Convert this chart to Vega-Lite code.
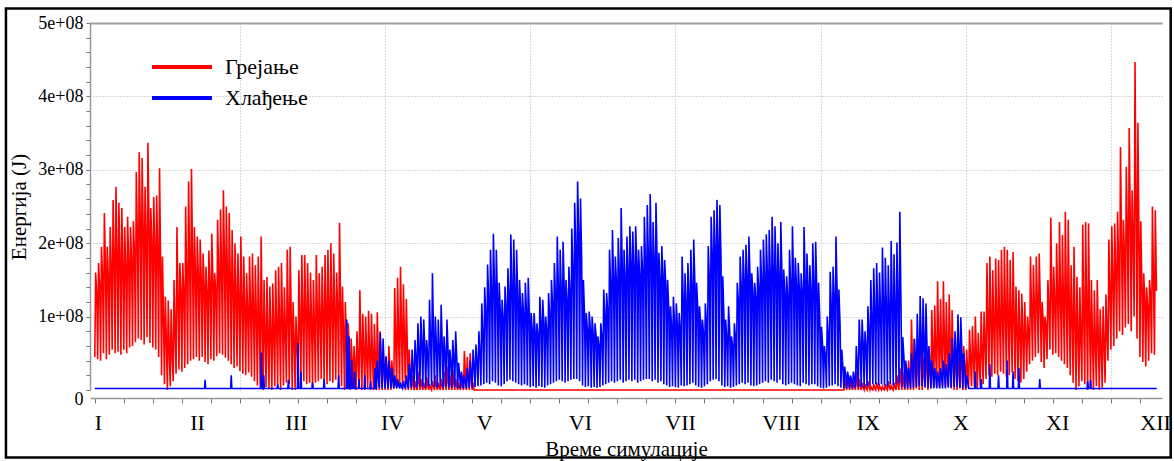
{
"$schema":"https://vega.github.io/schema/vega-lite/v6.json",
"width":1072,"height":367,
"autosize":{"type":"none"},
"padding":{"left":90,"top":23,"right":12,"bottom":71},
"background":"white",
"config":{"view":{"stroke":null},"font":"Liberation Serif"},
"resolve":{"axis":{"x":"independent"}},
"layer":[
{"data":{"values":[
{"t":0,"v":45},{"t":0.3,"v":160},{"t":0.7,"v":130},
{"t":1,"v":42},{"t":1.3,"v":173},{"t":1.7,"v":140},
{"t":2,"v":40},{"t":2.3,"v":195},{"t":2.7,"v":150},
{"t":3,"v":50},{"t":3.3,"v":241},{"t":3.7,"v":165},
{"t":4,"v":42},{"t":4.3,"v":195},{"t":4.7,"v":150},
{"t":5,"v":48},{"t":5.3,"v":222},{"t":5.7,"v":160},
{"t":6,"v":55},{"t":6.3,"v":259},{"t":6.7,"v":170},
{"t":7,"v":50},{"t":7.3,"v":277},{"t":7.7,"v":172},
{"t":8,"v":52},{"t":8.3,"v":255},{"t":8.7,"v":165},
{"t":9,"v":48},{"t":9.3,"v":248},{"t":9.7,"v":160},
{"t":10,"v":55},{"t":10.3,"v":222},{"t":10.7,"v":158},
{"t":11,"v":50},{"t":11.3,"v":236},{"t":11.7,"v":168},
{"t":12,"v":58},{"t":12.3,"v":222},{"t":12.7,"v":172},
{"t":13,"v":60},{"t":13.3,"v":230},{"t":13.7,"v":180},
{"t":14,"v":65},{"t":14.3,"v":297},{"t":14.7,"v":200},
{"t":15,"v":70},{"t":15.3,"v":324},{"t":15.7,"v":215},
{"t":16,"v":68},{"t":16.3,"v":316},{"t":16.7,"v":210},
{"t":17,"v":62},{"t":17.3,"v":277},{"t":17.7,"v":195},
{"t":18,"v":72},{"t":18.3,"v":337},{"t":18.7,"v":218},
{"t":19,"v":64},{"t":19.3,"v":248},{"t":19.7,"v":192},
{"t":20,"v":58},{"t":20.3,"v":263},{"t":20.7,"v":185},
{"t":21,"v":55},{"t":21.3,"v":265},{"t":21.7,"v":178},
{"t":22,"v":45},{"t":22.3,"v":302},{"t":22.7,"v":165},
{"t":23,"v":20},{"t":23.3,"v":182},{"t":23.7,"v":90},
{"t":24,"v":8},{"t":24.3,"v":127},{"t":24.7,"v":60},
{"t":25,"v":0},{"t":25.3,"v":122},{"t":25.7,"v":45},
{"t":26,"v":5},{"t":26.3,"v":110},{"t":26.7,"v":42},
{"t":27,"v":12},{"t":27.3,"v":150},{"t":27.7,"v":70},
{"t":28,"v":22},{"t":28.3,"v":222},{"t":28.7,"v":110},
{"t":29,"v":28},{"t":29.3,"v":173},{"t":29.7,"v":130},
{"t":30,"v":25},{"t":30.3,"v":173},{"t":30.7,"v":125},
{"t":31,"v":30},{"t":31.3,"v":250},{"t":31.7,"v":140},
{"t":32,"v":35},{"t":32.3,"v":284},{"t":32.7,"v":160},
{"t":33,"v":40},{"t":33.3,"v":301},{"t":33.7,"v":170},
{"t":34,"v":42},{"t":34.3,"v":222},{"t":34.7,"v":155},
{"t":35,"v":45},{"t":35.3,"v":209},{"t":35.7,"v":150},
{"t":36,"v":40},{"t":36.3,"v":205},{"t":36.7,"v":145},
{"t":37,"v":45},{"t":37.3,"v":186},{"t":37.7,"v":138},
{"t":38,"v":38},{"t":38.3,"v":168},{"t":38.7,"v":128},
{"t":39,"v":35},{"t":39.3,"v":190},{"t":39.7,"v":135},
{"t":40,"v":42},{"t":40.3,"v":213},{"t":40.7,"v":148},
{"t":41,"v":40},{"t":41.3,"v":159},{"t":41.7,"v":130},
{"t":42,"v":46},{"t":42.3,"v":232},{"t":42.7,"v":150},
{"t":43,"v":50},{"t":43.3,"v":246},{"t":43.7,"v":158},
{"t":44,"v":48},{"t":44.3,"v":272},{"t":44.7,"v":165},
{"t":45,"v":44},{"t":45.3,"v":250},{"t":45.7,"v":150},
{"t":46,"v":40},{"t":46.3,"v":241},{"t":46.7,"v":142},
{"t":47,"v":35},{"t":47.3,"v":218},{"t":47.7,"v":130},
{"t":48,"v":30},{"t":48.3,"v":200},{"t":48.7,"v":118},
{"t":49,"v":32},{"t":49.3,"v":186},{"t":49.7,"v":115},
{"t":50,"v":26},{"t":50.3,"v":209},{"t":50.7,"v":110},
{"t":51,"v":22},{"t":51.3,"v":182},{"t":51.7,"v":102},
{"t":52,"v":20},{"t":52.3,"v":159},{"t":52.7,"v":98},
{"t":53,"v":24},{"t":53.3,"v":182},{"t":53.7,"v":100},
{"t":54,"v":18},{"t":54.3,"v":186},{"t":54.7,"v":98},
{"t":55,"v":12},{"t":55.3,"v":170},{"t":55.7,"v":90},
{"t":56,"v":6},{"t":56.3,"v":182},{"t":56.7,"v":80},
{"t":57,"v":3},{"t":57.3,"v":209},{"t":57.7,"v":78},
{"t":58,"v":0},{"t":58.3,"v":150},{"t":58.7,"v":65},
{"t":59,"v":4},{"t":59.3,"v":154},{"t":59.7,"v":62},
{"t":60,"v":2},{"t":60.3,"v":141},{"t":60.7,"v":65},
{"t":61,"v":0},{"t":61.3,"v":145},{"t":61.7,"v":68},
{"t":62,"v":5},{"t":62.3,"v":163},{"t":62.7,"v":72},
{"t":63,"v":8},{"t":63.3,"v":168},{"t":63.7,"v":78},
{"t":64,"v":0},{"t":64.3,"v":173},{"t":64.7,"v":85},
{"t":65,"v":6},{"t":65.3,"v":140},{"t":65.7,"v":70},
{"t":66,"v":10},{"t":66.3,"v":191},{"t":66.7,"v":88},
{"t":67,"v":8},{"t":67.3,"v":195},{"t":67.7,"v":92},
{"t":68,"v":0},{"t":68.3,"v":120},{"t":68.7,"v":60},
{"t":69,"v":0},{"t":69.3,"v":100},{"t":69.7,"v":55},
{"t":70,"v":5},{"t":70.3,"v":163},{"t":70.7,"v":82},
{"t":71,"v":10},{"t":71.3,"v":184},{"t":71.7,"v":92},
{"t":72,"v":12},{"t":72.3,"v":184},{"t":72.7,"v":95},
{"t":73,"v":8},{"t":73.3,"v":173},{"t":73.7,"v":88},
{"t":74,"v":10},{"t":74.3,"v":160},{"t":74.7,"v":85},
{"t":75,"v":4},{"t":75.3,"v":150},{"t":75.7,"v":78},
{"t":76,"v":10},{"t":76.3,"v":184},{"t":76.7,"v":94},
{"t":77,"v":12},{"t":77.3,"v":159},{"t":77.7,"v":90},
{"t":78,"v":15},{"t":78.3,"v":168},{"t":78.7,"v":96},
{"t":79,"v":10},{"t":79.3,"v":184},{"t":79.7,"v":98},
{"t":80,"v":8},{"t":80.3,"v":191},{"t":80.7,"v":95},
{"t":81,"v":12},{"t":81.3,"v":200},{"t":81.7,"v":100},
{"t":82,"v":10},{"t":82.3,"v":186},{"t":82.7,"v":96},
{"t":83,"v":14},{"t":83.3,"v":160},{"t":83.7,"v":100},
{"t":84,"v":14},{"t":84.3,"v":228},{"t":84.7,"v":105},
{"t":85,"v":5},{"t":85.3,"v":141},{"t":85.7,"v":75},
{"t":86,"v":0},{"t":86.3,"v":120},{"t":86.7,"v":55},
{"t":87,"v":2},{"t":87.3,"v":91},{"t":87.7,"v":45},
{"t":88,"v":0},{"t":88.3,"v":70},{"t":88.7,"v":35},
{"t":89,"v":3},{"t":89.3,"v":60},{"t":89.7,"v":30},
{"t":90,"v":0},{"t":90.3,"v":80},{"t":90.7,"v":38},
{"t":91,"v":2},{"t":91.3,"v":136},{"t":91.7,"v":50},
{"t":92,"v":0},{"t":92.3,"v":104},{"t":92.7,"v":45},
{"t":93,"v":0},{"t":93.3,"v":100},{"t":93.7,"v":40},
{"t":94,"v":3},{"t":94.3,"v":108},{"t":94.7,"v":42},
{"t":95,"v":0},{"t":95.3,"v":104},{"t":95.7,"v":40},
{"t":96,"v":0},{"t":96.3,"v":90},{"t":96.7,"v":35},
{"t":97,"v":0},{"t":97.3,"v":106},{"t":97.7,"v":38},
{"t":98,"v":0},{"t":98.3,"v":80},{"t":98.7,"v":30},
{"t":99,"v":0},{"t":99.3,"v":55},{"t":99.7,"v":22},
{"t":100,"v":0},{"t":100.3,"v":45},{"t":100.7,"v":18},
{"t":101,"v":0},{"t":101.3,"v":60},{"t":101.7,"v":25},
{"t":102,"v":0},{"t":102.3,"v":40},{"t":102.7,"v":15},
{"t":103,"v":2},{"t":103.3,"v":139},{"t":103.7,"v":55},
{"t":104,"v":3},{"t":104.3,"v":153},{"t":104.7,"v":62},
{"t":105,"v":5},{"t":105.3,"v":168},{"t":105.7,"v":70},
{"t":106,"v":2},{"t":106.3,"v":144},{"t":106.7,"v":60},
{"t":107,"v":0},{"t":107.3,"v":124},{"t":107.7,"v":50},
{"t":108,"v":0},{"t":108.3,"v":55},{"t":108.7,"v":20},
{"t":109,"v":0},{"t":109.3,"v":20},{"t":109.7,"v":6},
{"t":110,"v":0},{"t":110.3,"v":12},{"t":110.7,"v":4},
{"t":111,"v":0},{"t":111.3,"v":25},{"t":111.7,"v":8},
{"t":112,"v":0},{"t":112.3,"v":15},{"t":112.7,"v":5},
{"t":113,"v":0},{"t":113.3,"v":10},{"t":113.7,"v":3},
{"t":114,"v":0},{"t":114.3,"v":18},{"t":114.7,"v":6},
{"t":115,"v":0},{"t":115.3,"v":8},{"t":115.7,"v":2},
{"t":116,"v":0},{"t":116.3,"v":12},{"t":116.7,"v":4},
{"t":117,"v":0},{"t":117.3,"v":20},{"t":117.7,"v":5},
{"t":118,"v":0},{"t":118.3,"v":10},{"t":118.7,"v":3},
{"t":119,"v":0},{"t":119.3,"v":15},{"t":119.7,"v":5},
{"t":120,"v":0},{"t":120.3,"v":25},{"t":120.7,"v":8},
{"t":121,"v":0},{"t":121.3,"v":32},{"t":121.7,"v":10},
{"t":122,"v":0},{"t":122.3,"v":20},{"t":122.7,"v":6},
{"t":123,"v":0},{"t":123.3,"v":28},{"t":123.7,"v":8},
{"t":124,"v":0},{"t":124.3,"v":15},{"t":124.7,"v":5},
{"t":125,"v":0},{"t":125.3,"v":10},{"t":125.7,"v":3},
{"t":126,"v":0},{"t":126.3,"v":20},{"t":126.7,"v":6},
{"t":127,"v":0},{"t":127.3,"v":53},{"t":127.7,"v":18},
{"t":128,"v":0},{"t":128.3,"v":45},{"t":128.7,"v":15},
{"t":129,"v":0},{"t":129.3,"v":50},{"t":129.7,"v":12},
{"t":130,"v":0},{"t":130.3,"v":10},{"t":130.7,"v":0},
{"t":131,"v":0},{"t":257,"v":0},
{"t":258,"v":0},{"t":258.3,"v":15},{"t":258.7,"v":5},
{"t":259,"v":0},{"t":259.3,"v":20},{"t":259.7,"v":6},
{"t":260,"v":0},{"t":260.3,"v":18},{"t":260.7,"v":5},
{"t":261,"v":0},{"t":261.3,"v":12},{"t":261.7,"v":4},
{"t":262,"v":0},{"t":262.3,"v":25},{"t":262.7,"v":8},
{"t":263,"v":0},{"t":263.3,"v":15},{"t":263.7,"v":5},
{"t":264,"v":0},{"t":264.3,"v":10},{"t":264.7,"v":3},
{"t":265,"v":0},{"t":265.3,"v":8},{"t":265.7,"v":2},
{"t":266,"v":0},{"t":266.3,"v":12},{"t":266.7,"v":4},
{"t":267,"v":0},{"t":267.3,"v":5},{"t":267.7,"v":1},
{"t":268,"v":0},{"t":268.3,"v":8},{"t":268.7,"v":2},
{"t":269,"v":0},{"t":269.3,"v":10},{"t":269.7,"v":3},
{"t":270,"v":0},{"t":270.3,"v":6},{"t":270.7,"v":2},
{"t":271,"v":0},{"t":271.3,"v":5},{"t":271.7,"v":1},
{"t":272,"v":0},{"t":272.3,"v":8},{"t":272.7,"v":2},
{"t":273,"v":0},{"t":273.3,"v":12},{"t":273.7,"v":4},
{"t":274,"v":0},{"t":274.3,"v":6},{"t":274.7,"v":2},
{"t":275,"v":0},{"t":275.3,"v":10},{"t":275.7,"v":3},
{"t":276,"v":0},{"t":276.3,"v":20},{"t":276.7,"v":6},
{"t":277,"v":0},{"t":277.3,"v":30},{"t":277.7,"v":10},
{"t":278,"v":0},{"t":278.3,"v":25},{"t":278.7,"v":8},
{"t":279,"v":0},{"t":279.3,"v":35},{"t":279.7,"v":12},
{"t":280,"v":0},{"t":280.3,"v":40},{"t":280.7,"v":15},
{"t":281,"v":0},{"t":281.3,"v":96},{"t":281.7,"v":30},
{"t":282,"v":0},{"t":282.3,"v":69},{"t":282.7,"v":25},
{"t":283,"v":2},{"t":283.3,"v":55},{"t":283.7,"v":22},
{"t":284,"v":0},{"t":284.3,"v":92},{"t":284.7,"v":35},
{"t":285,"v":0},{"t":285.3,"v":45},{"t":285.7,"v":18},
{"t":286,"v":3},{"t":286.3,"v":60},{"t":286.7,"v":25},
{"t":287,"v":0},{"t":287.3,"v":50},{"t":287.7,"v":20},
{"t":288,"v":2},{"t":288.3,"v":109},{"t":288.7,"v":40},
{"t":289,"v":4},{"t":289.3,"v":115},{"t":289.7,"v":45},
{"t":290,"v":5},{"t":290.3,"v":148},{"t":290.7,"v":55},
{"t":291,"v":3},{"t":291.3,"v":124},{"t":291.7,"v":50},
{"t":292,"v":6},{"t":292.3,"v":148},{"t":292.7,"v":58},
{"t":293,"v":4},{"t":293.3,"v":120},{"t":293.7,"v":48},
{"t":294,"v":5},{"t":294.3,"v":130},{"t":294.7,"v":52},
{"t":295,"v":2},{"t":295.3,"v":109},{"t":295.7,"v":42},
{"t":296,"v":0},{"t":296.3,"v":60},{"t":296.7,"v":25},
{"t":297,"v":0},{"t":297.3,"v":45},{"t":297.7,"v":20},
{"t":298,"v":2},{"t":298.3,"v":69},{"t":298.7,"v":28},
{"t":299,"v":0},{"t":299.3,"v":60},{"t":299.7,"v":25},
{"t":300,"v":0},{"t":300.3,"v":55},{"t":300.7,"v":22},
{"t":301,"v":3},{"t":301.3,"v":82},{"t":301.7,"v":35},
{"t":302,"v":5},{"t":302.3,"v":87},{"t":302.7,"v":38},
{"t":303,"v":4},{"t":303.3,"v":100},{"t":303.7,"v":42},
{"t":304,"v":2},{"t":304.3,"v":78},{"t":304.7,"v":32},
{"t":305,"v":5},{"t":305.3,"v":107},{"t":305.7,"v":45},
{"t":306,"v":8},{"t":306.3,"v":107},{"t":306.7,"v":55},
{"t":307,"v":15},{"t":307.3,"v":173},{"t":307.7,"v":80},
{"t":308,"v":20},{"t":308.3,"v":182},{"t":308.7,"v":85},
{"t":309,"v":18},{"t":309.3,"v":163},{"t":309.7,"v":78},
{"t":310,"v":22},{"t":310.3,"v":179},{"t":310.7,"v":88},
{"t":311,"v":20},{"t":311.3,"v":177},{"t":311.7,"v":85},
{"t":312,"v":25},{"t":312.3,"v":191},{"t":312.7,"v":90},
{"t":313,"v":22},{"t":313.3,"v":195},{"t":313.7,"v":92},
{"t":314,"v":18},{"t":314.3,"v":191},{"t":314.7,"v":88},
{"t":315,"v":20},{"t":315.3,"v":177},{"t":315.7,"v":84},
{"t":316,"v":24},{"t":316.3,"v":188},{"t":316.7,"v":90},
{"t":317,"v":15},{"t":317.3,"v":141},{"t":317.7,"v":75},
{"t":318,"v":12},{"t":318.3,"v":136},{"t":318.7,"v":70},
{"t":319,"v":10},{"t":319.3,"v":131},{"t":319.7,"v":68},
{"t":320,"v":15},{"t":320.3,"v":120},{"t":320.7,"v":72},
{"t":321,"v":25},{"t":321.3,"v":100},{"t":321.7,"v":75},
{"t":322,"v":35},{"t":322.3,"v":182},{"t":322.7,"v":100},
{"t":323,"v":40},{"t":323.3,"v":170},{"t":323.7,"v":105},
{"t":324,"v":45},{"t":324.3,"v":182},{"t":324.7,"v":110},
{"t":325,"v":50},{"t":325.3,"v":186},{"t":325.7,"v":115},
{"t":326,"v":38},{"t":326.3,"v":120},{"t":326.7,"v":95},
{"t":327,"v":30},{"t":327.3,"v":100},{"t":327.7,"v":85},
{"t":328,"v":42},{"t":328.3,"v":150},{"t":328.7,"v":105},
{"t":329,"v":55},{"t":329.3,"v":235},{"t":329.7,"v":120},
{"t":330,"v":48},{"t":330.3,"v":168},{"t":330.7,"v":110},
{"t":331,"v":50},{"t":331.3,"v":200},{"t":331.7,"v":115},
{"t":332,"v":45},{"t":332.3,"v":229},{"t":332.7,"v":112},
{"t":333,"v":40},{"t":333.3,"v":211},{"t":333.7,"v":108},
{"t":334,"v":35},{"t":334.3,"v":243},{"t":334.7,"v":110},
{"t":335,"v":30},{"t":335.3,"v":232},{"t":335.7,"v":100},
{"t":336,"v":20},{"t":336.3,"v":170},{"t":336.7,"v":85},
{"t":337,"v":10},{"t":337.3,"v":195},{"t":337.7,"v":80},
{"t":338,"v":0},{"t":338.3,"v":154},{"t":338.7,"v":65},
{"t":339,"v":5},{"t":339.3,"v":140},{"t":339.7,"v":62},
{"t":340,"v":12},{"t":340.3,"v":225},{"t":340.7,"v":85},
{"t":341,"v":8},{"t":341.3,"v":229},{"t":341.7,"v":90},
{"t":342,"v":0},{"t":342.3,"v":227},{"t":342.7,"v":80},
{"t":343,"v":2},{"t":343.3,"v":150},{"t":343.7,"v":60},
{"t":344,"v":0},{"t":344.3,"v":136},{"t":344.7,"v":55},
{"t":345,"v":5},{"t":345.3,"v":150},{"t":345.7,"v":62},
{"t":346,"v":0},{"t":346.3,"v":110},{"t":346.7,"v":50},
{"t":347,"v":3},{"t":347.3,"v":114},{"t":347.7,"v":55},
{"t":348,"v":10},{"t":348.3,"v":130},{"t":348.7,"v":70},
{"t":349,"v":40},{"t":349.3,"v":205},{"t":349.7,"v":125},
{"t":350,"v":55},{"t":350.3,"v":223},{"t":350.7,"v":140},
{"t":351,"v":60},{"t":351.3,"v":227},{"t":351.7,"v":155},
{"t":352,"v":70},{"t":352.3,"v":243},{"t":352.7,"v":165},
{"t":353,"v":80},{"t":353.3,"v":331},{"t":353.7,"v":190},
{"t":354,"v":75},{"t":354.3,"v":232},{"t":354.7,"v":180},
{"t":355,"v":85},{"t":355.3,"v":304},{"t":355.7,"v":205},
{"t":356,"v":90},{"t":356.3,"v":357},{"t":356.7,"v":220},
{"t":357,"v":80},{"t":357.3,"v":272},{"t":357.7,"v":200},
{"t":358,"v":100},{"t":358.3,"v":447},{"t":358.7,"v":230},
{"t":359,"v":70},{"t":359.3,"v":364},{"t":359.7,"v":190},
{"t":360,"v":45},{"t":360.3,"v":230},{"t":360.7,"v":135},
{"t":361,"v":38},{"t":361.3,"v":159},{"t":361.7,"v":120},
{"t":362,"v":32},{"t":362.3,"v":140},{"t":362.7,"v":110},
{"t":363,"v":40},{"t":363.3,"v":150},{"t":363.7,"v":125},
{"t":364,"v":50},{"t":364.3,"v":250},{"t":364.7,"v":140},
{"t":365,"v":48},{"t":365.3,"v":245},{"t":365.7,"v":135}
]},
"mark":{"type":"line","strokeWidth":1.6,"interpolate":"linear"},
"encoding":{
"x":{"field":"t","type":"quantitative","scale":{"domain":[-1.65,367.6],"nice":false,"zero":false},
"axis":{"orient":"bottom","offset":8,
"values":[0,10,20,30,40,50,60,70,80,90,100,110,120,130,140,150,160,170,180,190,200,210,220,230,240,250,260,270,280,290,300,310,320,330,340,350,360,1.1,35.2,69.3,102.4,134.1,167.1,201.6,236.3,266.3,298.2,331.5,365.2],
"labelExpr":"datum.value % 10 == 0 ? '' : ['I','II','III','IV','V','VI','VII','VIII','IX','X','XI','XII'][indexof([1.1,35.2,69.3,102.4,134.1,167.1,201.6,236.3,266.3,298.2,331.5,365.2], datum.value)]",
"labelOverlap":false,"labelFlush":false,"labelBound":false,
"labelFont":"Liberation Serif","labelFontSize":22,"labelColor":"#000","labelPadding":9,
"tickSize":5,"tickColor":"#777","tickWidth":1,
"tickOpacity":{"condition":{"test":"datum.value % 10 != 0","value":0},"value":1},
"domainColor":"#999","domainWidth":1.5,
"grid":true,"gridColor":"#b5b5b5","gridDash":[1,2],"gridWidth":1,
"gridOpacity":{"condition":{"test":"datum.value % 50 == 0 && datum.value > 0","value":1},"value":0},
"title":"Време симулације","titleFont":"Liberation Serif","titleFontSize":21,"titleFontWeight":"normal","titleColor":"#000","titlePadding":5}},
"y":{"field":"v","type":"quantitative","scale":{"domain":[0,500],"nice":false},
"axis":{"orient":"left","values":[0,20,40,60,80,100,120,140,160,180,200,220,240,260,280,300,320,340,360,380,400,420,440,460,480,500],
"labelExpr":"datum.value % 100 != 0 ? '' : (datum.value == 0 ? '0' : (datum.value/100) + 'e+08')",
"labelOverlap":false,
"labelBaseline":{"condition":{"test":"datum.value == 0","value":"top"},"value":"middle"},
"labelFont":"Liberation Serif","labelFontSize":18,"labelColor":"#000","labelPadding":3,
"tickSize":4,"tickColor":"#777","domainColor":"#999","domainWidth":1.5,
"grid":true,"gridColor":"#b5b5b5","gridDash":[1,2],"gridWidth":1,
"gridOpacity":{"condition":{"test":"datum.value % 100 == 0 && datum.value > 0","value":1},"value":0},
"title":"Енергија (J)","titleFont":"Liberation Serif","titleFontSize":21,"titleFontWeight":"normal","titleColor":"#000","titlePadding":8}},
"color":{"datum":"Грејање","type":"nominal","scale":{"domain":["Грејање","Хлађење"],"range":["#ff0000","#0000ff"]},
"legend":{"orient":"none","legendX":80,"legendY":32,"title":null,"symbolType":"M-3,0H3","symbolSize":400,"symbolStrokeWidth":4,"symbolFillColor":"transparent","labelFont":"Liberation Serif","labelFontSize":22,"labelColor":"#000","labelOffset":31,"rowPadding":8}}
}},
{"data":{"values":[
{"t":0,"v":2},
{"t":37.8,"v":2},{"t":38,"v":14},{"t":38.2,"v":2},
{"t":46.8,"v":2},{"t":47,"v":20},{"t":47.2,"v":2},
{"t":57.2,"v":2},{"t":57.4,"v":51},{"t":57.6,"v":2},
{"t":58,"v":2},{"t":58.2,"v":20},{"t":58.4,"v":2},
{"t":62.8,"v":2},{"t":63,"v":8},{"t":63.2,"v":2},
{"t":66.5,"v":2},{"t":66.7,"v":14},{"t":66.9,"v":2},
{"t":69.8,"v":2},{"t":70,"v":64},{"t":70.2,"v":2},
{"t":70.8,"v":2},{"t":71,"v":25},{"t":71.2,"v":2},
{"t":74.8,"v":2},{"t":75,"v":10},{"t":75.2,"v":2},
{"t":78.8,"v":2},{"t":79,"v":15},{"t":79.2,"v":2},
{"t":83.8,"v":2},{"t":84,"v":20},{"t":84.2,"v":2},
{"t":86.6,"v":2},{"t":86.8,"v":96},{"t":87,"v":2},
{"t":87.4,"v":2},{"t":87.6,"v":73},{"t":87.8,"v":2},
{"t":88.3,"v":2},{"t":88.5,"v":41},{"t":88.7,"v":2},
{"t":89.3,"v":2},{"t":89.5,"v":25},{"t":89.7,"v":2},
{"t":90.8,"v":2},{"t":91,"v":15},{"t":91.2,"v":2},
{"t":92.8,"v":2},{"t":93,"v":20},{"t":93.2,"v":2},
{"t":94.8,"v":2},{"t":95,"v":12},{"t":95.2,"v":2},
{"t":96.3,"v":2},{"t":96.5,"v":30},{"t":96.7,"v":2},
{"t":97,"v":2},{"t":97.3,"v":40},{"t":97.7,"v":15},
{"t":98,"v":3},{"t":98.3,"v":78},{"t":98.7,"v":30},
{"t":99,"v":2},{"t":99.3,"v":70},{"t":99.7,"v":28},
{"t":100,"v":2},{"t":100.3,"v":46},{"t":100.7,"v":20},
{"t":101,"v":2},{"t":101.3,"v":40},{"t":101.7,"v":18},
{"t":102,"v":2},{"t":102.3,"v":30},{"t":102.7,"v":12},
{"t":103,"v":2},{"t":103.3,"v":20},{"t":103.7,"v":8},
{"t":104,"v":2},{"t":104.3,"v":15},{"t":104.7,"v":6},
{"t":105,"v":2},{"t":105.3,"v":10},{"t":105.7,"v":4},
{"t":106,"v":2},{"t":106.3,"v":12},{"t":106.7,"v":5},
{"t":107,"v":2},{"t":107.3,"v":20},{"t":107.7,"v":8},
{"t":108,"v":2},{"t":108.3,"v":35},{"t":108.7,"v":15},
{"t":109,"v":3},{"t":109.3,"v":55},{"t":109.7,"v":25},
{"t":110,"v":4},{"t":110.3,"v":68},{"t":110.7,"v":40},
{"t":111,"v":3},{"t":111.3,"v":91},{"t":111.7,"v":50},
{"t":112,"v":5},{"t":112.3,"v":100},{"t":112.7,"v":60},
{"t":113,"v":4},{"t":113.3,"v":96},{"t":113.7,"v":55},
{"t":114,"v":3},{"t":114.3,"v":68},{"t":114.7,"v":45},
{"t":115,"v":5},{"t":115.3,"v":123},{"t":115.7,"v":60},
{"t":116,"v":6},{"t":116.3,"v":159},{"t":116.7,"v":70},
{"t":117,"v":4},{"t":117.3,"v":100},{"t":117.7,"v":55},
{"t":118,"v":3},{"t":118.3,"v":96},{"t":118.7,"v":50},
{"t":119,"v":5},{"t":119.3,"v":116},{"t":119.7,"v":58},
{"t":120,"v":3},{"t":120.3,"v":73},{"t":120.7,"v":45},
{"t":121,"v":4},{"t":121.3,"v":96},{"t":121.7,"v":52},
{"t":122,"v":3},{"t":122.3,"v":55},{"t":122.7,"v":35},
{"t":123,"v":3},{"t":123.3,"v":68},{"t":123.7,"v":40},
{"t":124,"v":4},{"t":124.3,"v":80},{"t":124.7,"v":42},
{"t":125,"v":2},{"t":125.3,"v":37},{"t":125.7,"v":20},
{"t":126,"v":2},{"t":126.3,"v":25},{"t":126.7,"v":12},
{"t":127,"v":2},{"t":127.3,"v":20},{"t":127.7,"v":10},
{"t":128,"v":2},{"t":128.3,"v":30},{"t":128.7,"v":15},
{"t":129,"v":3},{"t":129.3,"v":40},{"t":129.7,"v":20},
{"t":130,"v":3},{"t":130.3,"v":55},{"t":130.7,"v":30},
{"t":131,"v":4},{"t":131.3,"v":62},{"t":131.7,"v":35},
{"t":132,"v":5},{"t":132.3,"v":80},{"t":132.7,"v":45},
{"t":133,"v":6},{"t":133.3,"v":118},{"t":133.7,"v":70},
{"t":134,"v":8},{"t":134.3,"v":140},{"t":134.7,"v":100},
{"t":135,"v":10},{"t":135.3,"v":171},{"t":135.7,"v":120},
{"t":136,"v":8},{"t":136.3,"v":191},{"t":136.7,"v":130},
{"t":137,"v":12},{"t":137.3,"v":213},{"t":137.7,"v":137},
{"t":138,"v":10},{"t":138.3,"v":191},{"t":138.7,"v":125},
{"t":139,"v":6},{"t":139.3,"v":146},{"t":139.7,"v":105},
{"t":140,"v":5},{"t":140.3,"v":123},{"t":140.7,"v":95},
{"t":141,"v":8},{"t":141.3,"v":141},{"t":141.7,"v":110},
{"t":142,"v":12},{"t":142.3,"v":166},{"t":142.7,"v":125},
{"t":143,"v":14},{"t":143.3,"v":212},{"t":143.7,"v":135},
{"t":144,"v":12},{"t":144.3,"v":205},{"t":144.7,"v":130},
{"t":145,"v":10},{"t":145.3,"v":191},{"t":145.7,"v":120},
{"t":146,"v":8},{"t":146.3,"v":150},{"t":146.7,"v":110},
{"t":147,"v":6},{"t":147.3,"v":132},{"t":147.7,"v":100},
{"t":148,"v":8},{"t":148.3,"v":146},{"t":148.7,"v":105},
{"t":149,"v":6},{"t":149.3,"v":153},{"t":149.7,"v":100},
{"t":150,"v":4},{"t":150.3,"v":105},{"t":150.7,"v":80},
{"t":151,"v":5},{"t":151.3,"v":105},{"t":151.7,"v":78},
{"t":152,"v":3},{"t":152.3,"v":91},{"t":152.7,"v":73},
{"t":153,"v":5},{"t":153.3,"v":127},{"t":153.7,"v":90},
{"t":154,"v":4},{"t":154.3,"v":123},{"t":154.7,"v":88},
{"t":155,"v":3},{"t":155.3,"v":100},{"t":155.7,"v":80},
{"t":156,"v":6},{"t":156.3,"v":132},{"t":156.7,"v":100},
{"t":157,"v":8},{"t":157.3,"v":150},{"t":157.7,"v":115},
{"t":158,"v":10},{"t":158.3,"v":173},{"t":158.7,"v":125},
{"t":159,"v":12},{"t":159.3,"v":209},{"t":159.7,"v":135},
{"t":160,"v":14},{"t":160.3,"v":191},{"t":160.7,"v":130},
{"t":161,"v":12},{"t":161.3,"v":202},{"t":161.7,"v":137},
{"t":162,"v":10},{"t":162.3,"v":150},{"t":162.7,"v":120},
{"t":163,"v":12},{"t":163.3,"v":168},{"t":163.7,"v":130},
{"t":164,"v":14},{"t":164.3,"v":220},{"t":164.7,"v":160},
{"t":165,"v":15},{"t":165.3,"v":255},{"t":165.7,"v":190},
{"t":166,"v":15},{"t":166.3,"v":284},{"t":166.7,"v":210},
{"t":167,"v":12},{"t":167.3,"v":261},{"t":167.7,"v":180},
{"t":168,"v":6},{"t":168.3,"v":150},{"t":168.7,"v":100},
{"t":169,"v":4},{"t":169.3,"v":105},{"t":169.7,"v":80},
{"t":170,"v":5},{"t":170.3,"v":107},{"t":170.7,"v":82},
{"t":171,"v":3},{"t":171.3,"v":100},{"t":171.7,"v":75},
{"t":172,"v":4},{"t":172.3,"v":91},{"t":172.7,"v":73},
{"t":173,"v":3},{"t":173.3,"v":73},{"t":173.7,"v":60},
{"t":174,"v":4},{"t":174.3,"v":91},{"t":174.7,"v":70},
{"t":175,"v":6},{"t":175.3,"v":137},{"t":175.7,"v":100},
{"t":176,"v":8},{"t":176.3,"v":132},{"t":176.7,"v":105},
{"t":177,"v":10},{"t":177.3,"v":191},{"t":177.7,"v":140},
{"t":178,"v":12},{"t":178.3,"v":218},{"t":178.7,"v":150},
{"t":179,"v":10},{"t":179.3,"v":182},{"t":179.7,"v":145},
{"t":180,"v":12},{"t":180.3,"v":207},{"t":180.7,"v":155},
{"t":181,"v":14},{"t":181.3,"v":248},{"t":181.7,"v":165},
{"t":182,"v":10},{"t":182.3,"v":191},{"t":182.7,"v":150},
{"t":183,"v":12},{"t":183.3,"v":209},{"t":183.7,"v":160},
{"t":184,"v":14},{"t":184.3,"v":223},{"t":184.7,"v":170},
{"t":185,"v":12},{"t":185.3,"v":216},{"t":185.7,"v":165},
{"t":186,"v":14},{"t":186.3,"v":223},{"t":186.7,"v":170},
{"t":187,"v":10},{"t":187.3,"v":191},{"t":187.7,"v":155},
{"t":188,"v":12},{"t":188.3,"v":196},{"t":188.7,"v":160},
{"t":189,"v":14},{"t":189.3,"v":236},{"t":189.7,"v":172},
{"t":190,"v":15},{"t":190.3,"v":252},{"t":190.7,"v":177},
{"t":191,"v":15},{"t":191.3,"v":267},{"t":191.7,"v":180},
{"t":192,"v":12},{"t":192.3,"v":229},{"t":192.7,"v":170},
{"t":193,"v":14},{"t":193.3,"v":255},{"t":193.7,"v":175},
{"t":194,"v":10},{"t":194.3,"v":187},{"t":194.7,"v":150},
{"t":195,"v":12},{"t":195.3,"v":196},{"t":195.7,"v":155},
{"t":196,"v":8},{"t":196.3,"v":177},{"t":196.7,"v":140},
{"t":197,"v":6},{"t":197.3,"v":150},{"t":197.7,"v":110},
{"t":198,"v":4},{"t":198.3,"v":114},{"t":198.7,"v":85},
{"t":199,"v":5},{"t":199.3,"v":127},{"t":199.7,"v":90},
{"t":200,"v":4},{"t":200.3,"v":118},{"t":200.7,"v":88},
{"t":201,"v":3},{"t":201.3,"v":105},{"t":201.7,"v":80},
{"t":202,"v":6},{"t":202.3,"v":182},{"t":202.7,"v":120},
{"t":203,"v":5},{"t":203.3,"v":159},{"t":203.7,"v":115},
{"t":204,"v":6},{"t":204.3,"v":173},{"t":204.7,"v":125},
{"t":205,"v":8},{"t":205.3,"v":191},{"t":205.7,"v":135},
{"t":206,"v":10},{"t":206.3,"v":205},{"t":206.7,"v":145},
{"t":207,"v":6},{"t":207.3,"v":146},{"t":207.7,"v":110},
{"t":208,"v":4},{"t":208.3,"v":114},{"t":208.7,"v":90},
{"t":209,"v":3},{"t":209.3,"v":96},{"t":209.7,"v":75},
{"t":210,"v":5},{"t":210.3,"v":118},{"t":210.7,"v":90},
{"t":211,"v":8},{"t":211.3,"v":196},{"t":211.7,"v":150},
{"t":212,"v":12},{"t":212.3,"v":236},{"t":212.7,"v":180},
{"t":213,"v":14},{"t":213.3,"v":245},{"t":213.7,"v":190},
{"t":214,"v":15},{"t":214.3,"v":259},{"t":214.7,"v":195},
{"t":215,"v":12},{"t":215.3,"v":252},{"t":215.7,"v":180},
{"t":216,"v":6},{"t":216.3,"v":155},{"t":216.7,"v":100},
{"t":217,"v":4},{"t":217.3,"v":96},{"t":217.7,"v":70},
{"t":218,"v":5},{"t":218.3,"v":114},{"t":218.7,"v":80},
{"t":219,"v":3},{"t":219.3,"v":73},{"t":219.7,"v":60},
{"t":220,"v":4},{"t":220.3,"v":91},{"t":220.7,"v":70},
{"t":221,"v":6},{"t":221.3,"v":146},{"t":221.7,"v":120},
{"t":222,"v":8},{"t":222.3,"v":182},{"t":222.7,"v":137},
{"t":223,"v":10},{"t":223.3,"v":191},{"t":223.7,"v":145},
{"t":224,"v":8},{"t":224.3,"v":198},{"t":224.7,"v":150},
{"t":225,"v":10},{"t":225.3,"v":209},{"t":225.7,"v":155},
{"t":226,"v":6},{"t":226.3,"v":159},{"t":226.7,"v":130},
{"t":227,"v":5},{"t":227.3,"v":146},{"t":227.7,"v":125},
{"t":228,"v":6},{"t":228.3,"v":168},{"t":228.7,"v":137},
{"t":229,"v":8},{"t":229.3,"v":191},{"t":229.7,"v":145},
{"t":230,"v":10},{"t":230.3,"v":205},{"t":230.7,"v":150},
{"t":231,"v":12},{"t":231.3,"v":212},{"t":231.7,"v":155},
{"t":232,"v":10},{"t":232.3,"v":218},{"t":232.7,"v":150},
{"t":233,"v":14},{"t":233.3,"v":236},{"t":233.7,"v":160},
{"t":234,"v":12},{"t":234.3,"v":223},{"t":234.7,"v":155},
{"t":235,"v":10},{"t":235.3,"v":200},{"t":235.7,"v":150},
{"t":236,"v":14},{"t":236.3,"v":229},{"t":236.7,"v":155},
{"t":237,"v":8},{"t":237.3,"v":164},{"t":237.7,"v":130},
{"t":238,"v":6},{"t":238.3,"v":155},{"t":238.7,"v":125},
{"t":239,"v":8},{"t":239.3,"v":191},{"t":239.7,"v":140},
{"t":240,"v":10},{"t":240.3,"v":223},{"t":240.7,"v":150},
{"t":241,"v":8},{"t":241.3,"v":180},{"t":241.7,"v":140},
{"t":242,"v":6},{"t":242.3,"v":173},{"t":242.7,"v":135},
{"t":243,"v":5},{"t":243.3,"v":159},{"t":243.7,"v":130},
{"t":244,"v":10},{"t":244.3,"v":222},{"t":244.7,"v":145},
{"t":245,"v":8},{"t":245.3,"v":186},{"t":245.7,"v":140},
{"t":246,"v":6},{"t":246.3,"v":170},{"t":246.7,"v":130},
{"t":247,"v":8},{"t":247.3,"v":200},{"t":247.7,"v":140},
{"t":248,"v":8},{"t":248.3,"v":202},{"t":248.7,"v":135},
{"t":249,"v":5},{"t":249.3,"v":146},{"t":249.7,"v":100},
{"t":250,"v":3},{"t":250.3,"v":86},{"t":250.7,"v":60},
{"t":251,"v":2},{"t":251.3,"v":60},{"t":251.7,"v":45},
{"t":252,"v":3},{"t":252.3,"v":100},{"t":252.7,"v":70},
{"t":253,"v":5},{"t":253.3,"v":161},{"t":253.7,"v":110},
{"t":254,"v":6},{"t":254.3,"v":168},{"t":254.7,"v":120},
{"t":255,"v":8},{"t":255.3,"v":209},{"t":255.7,"v":130},
{"t":256,"v":5},{"t":256.3,"v":137},{"t":256.7,"v":90},
{"t":257,"v":3},{"t":257.3,"v":55},{"t":257.7,"v":30},
{"t":258,"v":2},{"t":258.3,"v":32},{"t":258.7,"v":18},
{"t":259,"v":2},{"t":259.3,"v":25},{"t":259.7,"v":15},
{"t":260,"v":2},{"t":260.3,"v":20},{"t":260.7,"v":12},
{"t":261,"v":2},{"t":261.3,"v":25},{"t":261.7,"v":15},
{"t":262,"v":3},{"t":262.3,"v":60},{"t":262.7,"v":30},
{"t":263,"v":4},{"t":263.3,"v":96},{"t":263.7,"v":55},
{"t":264,"v":4},{"t":264.3,"v":96},{"t":264.7,"v":60},
{"t":265,"v":3},{"t":265.3,"v":80},{"t":265.7,"v":55},
{"t":266,"v":5},{"t":266.3,"v":114},{"t":266.7,"v":75},
{"t":267,"v":6},{"t":267.3,"v":150},{"t":267.7,"v":90},
{"t":268,"v":8},{"t":268.3,"v":166},{"t":268.7,"v":100},
{"t":269,"v":8},{"t":269.3,"v":173},{"t":269.7,"v":105},
{"t":270,"v":6},{"t":270.3,"v":160},{"t":270.7,"v":100},
{"t":271,"v":8},{"t":271.3,"v":194},{"t":271.7,"v":110},
{"t":272,"v":6},{"t":272.3,"v":180},{"t":272.7,"v":105},
{"t":273,"v":5},{"t":273.3,"v":170},{"t":273.7,"v":100},
{"t":274,"v":8},{"t":274.3,"v":203},{"t":274.7,"v":112},
{"t":275,"v":6},{"t":275.3,"v":185},{"t":275.7,"v":105},
{"t":276,"v":8},{"t":276.3,"v":201},{"t":276.7,"v":110},
{"t":277,"v":10},{"t":277.3,"v":243},{"t":277.7,"v":114},
{"t":278,"v":4},{"t":278.3,"v":72},{"t":278.7,"v":45},
{"t":279,"v":2},{"t":279.3,"v":40},{"t":279.7,"v":25},
{"t":280,"v":2},{"t":280.3,"v":30},{"t":280.7,"v":18},
{"t":281,"v":2},{"t":281.3,"v":50},{"t":281.7,"v":28},
{"t":282,"v":3},{"t":282.3,"v":70},{"t":282.7,"v":38},
{"t":283,"v":4},{"t":283.3,"v":104},{"t":283.7,"v":50},
{"t":284,"v":5},{"t":284.3,"v":128},{"t":284.7,"v":55},
{"t":285,"v":5},{"t":285.3,"v":125},{"t":285.7,"v":55},
{"t":286,"v":4},{"t":286.3,"v":118},{"t":286.7,"v":50},
{"t":287,"v":3},{"t":287.3,"v":60},{"t":287.7,"v":35},
{"t":288,"v":2},{"t":288.3,"v":40},{"t":288.7,"v":22},
{"t":289,"v":2},{"t":289.3,"v":30},{"t":289.7,"v":18},
{"t":290,"v":2},{"t":290.3,"v":25},{"t":290.7,"v":15},
{"t":291,"v":2},{"t":291.3,"v":30},{"t":291.7,"v":18},
{"t":292,"v":2},{"t":292.3,"v":40},{"t":292.7,"v":22},
{"t":293,"v":2},{"t":293.3,"v":35},{"t":293.7,"v":20},
{"t":294,"v":3},{"t":294.3,"v":50},{"t":294.7,"v":28},
{"t":295,"v":3},{"t":295.3,"v":70},{"t":295.7,"v":38},
{"t":296,"v":4},{"t":296.3,"v":80},{"t":296.7,"v":45},
{"t":297,"v":4},{"t":297.3,"v":103},{"t":297.7,"v":50},
{"t":298,"v":3},{"t":298.3,"v":99},{"t":298.7,"v":48},
{"t":299,"v":2},{"t":299.3,"v":50},{"t":299.7,"v":25},
{"t":300,"v":2},{"t":300.3,"v":20},{"t":300.7,"v":10},
{"t":301,"v":2},
{"t":303.1,"v":2},{"t":303.3,"v":25},{"t":303.5,"v":2},
{"t":305.1,"v":2},{"t":305.3,"v":15},{"t":305.5,"v":2},
{"t":308.1,"v":2},{"t":308.3,"v":35},{"t":308.5,"v":2},
{"t":311.1,"v":2},{"t":311.3,"v":20},{"t":311.5,"v":2},
{"t":314.1,"v":2},{"t":314.3,"v":40},{"t":314.5,"v":2},
{"t":316.1,"v":2},{"t":316.3,"v":25},{"t":316.5,"v":2},
{"t":318.1,"v":2},{"t":318.3,"v":30},{"t":318.5,"v":2},
{"t":325.3,"v":2},{"t":325.5,"v":15},{"t":325.7,"v":2},
{"t":341.8,"v":2},{"t":342,"v":12},{"t":342.2,"v":2},
{"t":342.8,"v":2},{"t":343,"v":14},{"t":343.2,"v":2},
{"t":365.8,"v":2}
]},
"mark":{"type":"line","strokeWidth":1.6,"interpolate":"linear"},
"encoding":{
"x":{"field":"t","type":"quantitative","scale":{"domain":[-1.65,367.6],"nice":false,"zero":false},
"axis":{"orient":"top","labels":false,"ticks":false,"grid":false,"domainColor":"#a0a0a0","domainWidth":2,"title":null}},
"y":{"field":"v","type":"quantitative","scale":{"domain":[0,500],"nice":false},
"axis":{"orient":"left","values":[0,20,40,60,80,100,120,140,160,180,200,220,240,260,280,300,320,340,360,380,400,420,440,460,480,500],
"labelExpr":"datum.value % 100 != 0 ? '' : (datum.value == 0 ? '0' : (datum.value/100) + 'e+08')",
"labelOverlap":false,
"labelBaseline":{"condition":{"test":"datum.value == 0","value":"top"},"value":"middle"},
"labelFont":"Liberation Serif","labelFontSize":18,"labelColor":"#000","labelPadding":3,
"tickSize":4,"tickColor":"#777","domainColor":"#999","domainWidth":1.5,
"grid":true,"gridColor":"#b5b5b5","gridDash":[1,2],"gridWidth":1,
"gridOpacity":{"condition":{"test":"datum.value % 100 == 0 && datum.value > 0","value":1},"value":0},
"title":"Енергија (J)","titleFont":"Liberation Serif","titleFontSize":21,"titleFontWeight":"normal","titleColor":"#000","titlePadding":8}},
"color":{"datum":"Хлађење","type":"nominal","scale":{"domain":["Грејање","Хлађење"],"range":["#ff0000","#0000ff"]}}
}},
{"data":{"values":[{}]},
"mark":{"type":"rect","filled":false,"stroke":"#000","strokeWidth":2.5,"clip":false},
"encoding":{"x":{"datum":-30.6,"type":"quantitative","scale":{"domain":[-1.65,367.6],"nice":false,"zero":false},"axis":null},"x2":{"datum":370.6},
"y":{"datum":-91.8,"type":"quantitative","scale":{"domain":[0,500],"nice":false},
"axis":{"orient":"left","values":[0,20,40,60,80,100,120,140,160,180,200,220,240,260,280,300,320,340,360,380,400,420,440,460,480,500],
"labelExpr":"datum.value % 100 != 0 ? '' : (datum.value == 0 ? '0' : (datum.value/100) + 'e+08')",
"labelOverlap":false,
"labelBaseline":{"condition":{"test":"datum.value == 0","value":"top"},"value":"middle"},
"labelFont":"Liberation Serif","labelFontSize":18,"labelColor":"#000","labelPadding":3,
"tickSize":4,"tickColor":"#777","domainColor":"#999","domainWidth":1.5,
"grid":true,"gridColor":"#b5b5b5","gridDash":[1,2],"gridWidth":1,
"gridOpacity":{"condition":{"test":"datum.value % 100 == 0 && datum.value > 0","value":1},"value":0},
"title":"Енергија (J)","titleFont":"Liberation Serif","titleFontSize":21,"titleFontWeight":"normal","titleColor":"#000","titlePadding":8}},
"y2":{"datum":519.7}}}
]
}
